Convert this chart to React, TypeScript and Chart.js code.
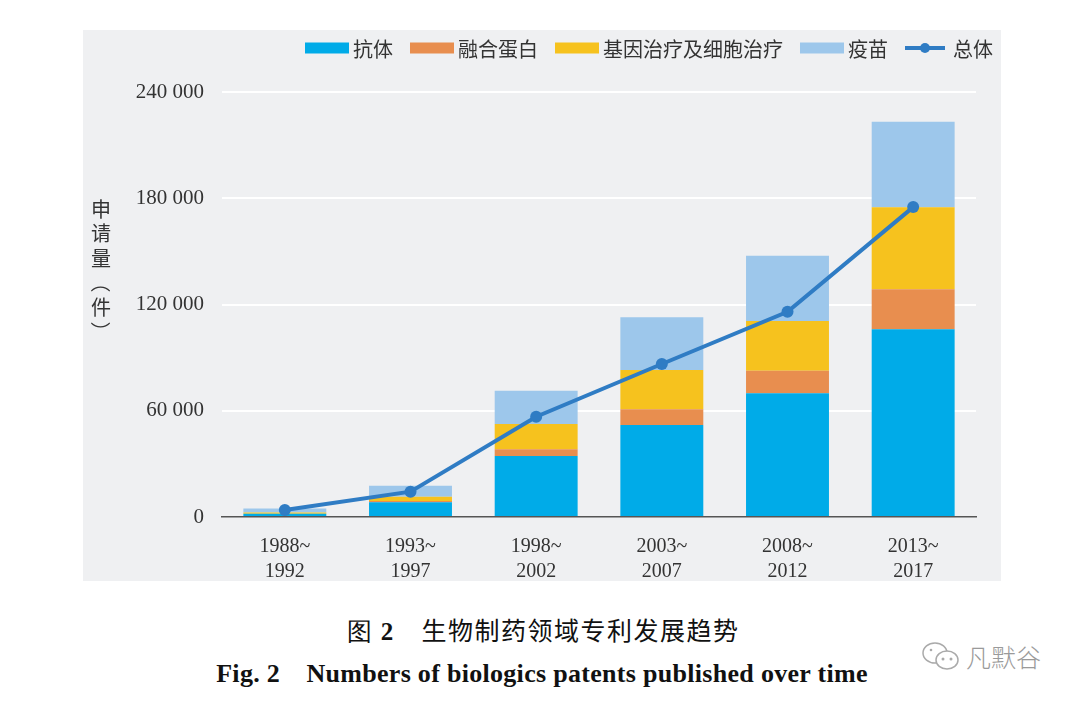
import React, { useEffect, useRef } from "react";
import { Chart, registerables } from "chart.js";
Chart.register(...registerables);

const categories = [
  ["1988~", "1992"],
  ["1993~", "1997"],
  ["1998~", "2002"],
  ["2003~", "2007"],
  ["2008~", "2012"],
  ["2013~", "2017"],
];
const antibody = [1800, 8300, 34400, 52000, 69900, 106000];
const fusionProtein = [100, 700, 3800, 8800, 12700, 22600];
const geneCellTherapy = [600, 2500, 14300, 22200, 28100, 46300];
const vaccine = [2300, 6200, 18800, 29800, 36900, 48300];
const total = [4000, 14300, 56600, 86400, 115900, 175000];
const yTicks = [0, 60000, 120000, 180000, 240000];
const seriesNames = ["抗体", "融合蛋白", "基因治疗及细胞治疗", "疫苗", "总体"];
const yTitle = ["申", "请", "量", "（", "件", "）"];

const CJK = '"Noto Sans CJK SC", "Noto Sans", sans-serif';
const SERIF = '"Liberation Serif", "DejaVu Serif", serif';

const C_ANTI = "#00abe8";
const C_FUSION = "#e88e4f";
const C_GENE = "#f6c21e";
const C_VAC = "#9dc7eb";
const C_LINE = "#2f7cc4";

const fmt = (v: number) => String(v).replace(/\B(?=(\d{3})+(?!\d))/g, " ");

const legendPlugin = {
  id: "customLegend",
  afterDraw(chart: any) {
    const ctx = chart.ctx;
    ctx.save();
    ctx.font = `20px ${CJK}`;
    ctx.textBaseline = "middle";
    const boxW = 44;
    const boxH = 11;
    const textGap = 4;
    const itemGap = 17;
    const y = 18;
    const ds = chart.data.datasets;
    const order = [0, 1, 2, 3, 4];
    const widths = order.map((i) => boxW + textGap + ctx.measureText(ds[i].label).width);
    const totalW = widths.reduce((a: number, b: number) => a + b, 0) + itemGap * (order.length - 1);
    let x = 910 - totalW;
    order.forEach((i, k) => {
      const d = ds[i];
      if (d.type === "line") {
        ctx.strokeStyle = d.borderColor;
        ctx.lineWidth = 4;
        ctx.beginPath();
        ctx.moveTo(x, y);
        ctx.lineTo(x + boxW - 4, y);
        ctx.stroke();
        ctx.fillStyle = d.borderColor;
        ctx.beginPath();
        ctx.arc(x + (boxW - 4) / 2, y, 5, 0, Math.PI * 2);
        ctx.fill();
      } else {
        ctx.fillStyle = d.backgroundColor;
        ctx.fillRect(x, y - boxH / 2, boxW, boxH);
      }
      ctx.fillStyle = "#333";
      ctx.textAlign = "left";
      ctx.fillText(d.label, x + boxW + textGap, y + 1);
      x += widths[k] + itemGap;
    });
    ctx.restore();
  },
};

const yTitlePlugin = {
  id: "yTitleVertical",
  afterDraw(chart: any) {
    const ctx = chart.ctx;
    ctx.save();
    ctx.font = `20px ${CJK}`;
    ctx.fillStyle = "#333";
    ctx.textAlign = "center";
    ctx.textBaseline = "middle";
    yTitle.forEach((ch, i) => {
      const cy = 179 + i * 24.5;
      if (ch === "（" || ch === "）") {
        ctx.save();
        ctx.translate(18, cy);
        ctx.rotate(Math.PI / 2);
        ctx.fillText(ch, 0, 0);
        ctx.restore();
      } else {
        ctx.fillText(ch, 18, cy);
      }
    });
    ctx.restore();
  },
};

function ChartPanel() {
  const ref = useRef<HTMLCanvasElement | null>(null);
  useEffect(() => {
    if (!ref.current) return;
    const chart = new Chart(ref.current, {
      type: "bar",
      data: {
        labels: categories as any,
        datasets: [
          { type: "bar", label: seriesNames[0], data: antibody, backgroundColor: C_ANTI, stack: "s", order: 1 },
          { type: "bar", label: seriesNames[1], data: fusionProtein, backgroundColor: C_FUSION, stack: "s", order: 1 },
          { type: "bar", label: seriesNames[2], data: geneCellTherapy, backgroundColor: C_GENE, stack: "s", order: 1 },
          { type: "bar", label: seriesNames[3], data: vaccine, backgroundColor: C_VAC, stack: "s", order: 1 },
          {
            type: "line",
            label: seriesNames[4],
            data: total,
            borderColor: C_LINE,
            backgroundColor: C_LINE,
            borderWidth: 4,
            pointRadius: 6,
            pointBackgroundColor: C_LINE,
            pointBorderWidth: 0,
            stack: "line",
            order: 0,
            tension: 0,
          } as any,
        ],
      },
      options: {
        responsive: false,
        animation: false,
        layout: { padding: { left: 0, top: 62, right: 25, bottom: 0 } },
        datasets: { bar: { categoryPercentage: 1, barPercentage: 0.66, borderWidth: 0 } } as any,
        plugins: { legend: { display: false }, tooltip: { enabled: false }, title: { display: false } },
        scales: {
          x: {
            stacked: true,
            grid: { display: false, drawTicks: false },
            border: { display: true, color: "#555", width: 1.5 },
            ticks: {
              color: "#333",
              font: { family: SERIF, size: 20, lineHeight: 1.25 },
              padding: 17,
              maxRotation: 0,
              autoSkip: false,
            },
            afterFit(scale: any) {
              scale.height = 64;
            },
          },
          y: {
            stacked: true,
            min: 0,
            max: 240000,
            afterBuildTicks(scale: any) {
              scale.ticks = yTicks.map((v) => ({ value: v }));
            },
            grid: {
              color: (c: any) => (c.tick && c.tick.value === 0 ? "rgba(0,0,0,0)" : "#ffffff"),
              lineWidth: 2,
              drawTicks: false,
            },
            border: { display: false },
            ticks: {
              color: "#333",
              font: { family: SERIF, size: 21 },
              padding: 18,
              callback: (v: any) => fmt(Number(v)),
            },
            afterFit(scale: any) {
              scale.width = 139;
            },
          },
        },
      },
      plugins: [legendPlugin, yTitlePlugin],
    });
    return () => chart.destroy();
  }, []);
  return <canvas ref={ref} width={918} height={551} style={{ display: "block" }} />;
}

export default function App() {
  return (
    <div style={{ position: "absolute", left: 0, top: 0, width: 1080, height: 702, background: "#fff", overflow: "hidden" }}>
      <div style={{ position: "absolute", left: 83, top: 30, width: 918, height: 551, background: "#eff0f2" }}>
        <ChartPanel />
      </div>
      <div
        style={{
          position: "absolute",
          left: 0,
          top: 611,
          width: 1086,
          textAlign: "center",
          fontFamily: CJK,
          fontSize: 25,
          lineHeight: "36px",
          color: "#111",
          letterSpacing: 1.5,
        }}
      >
        <span style={{ fontFamily: SERIF, fontWeight: 400 }}>图 </span>
        <span style={{ fontFamily: SERIF, fontWeight: 700 }}>2</span>
        <span>{"\u3000"}生物制药领域专利发展趋势</span>
      </div>
      <div
        style={{
          position: "absolute",
          left: 0,
          top: 656,
          width: 1084,
          textAlign: "center",
          fontFamily: SERIF,
          fontWeight: 700,
          fontSize: 26,
          lineHeight: "36px",
          color: "#111",
          letterSpacing: 0.3,
        }}
      >
        Fig. 2{"\u2003"}Numbers of biologics patents published over time
      </div>
      <div style={{ position: "absolute", left: 920, top: 640, width: 44, height: 34 }}>
        <svg width="44" height="34" viewBox="0 0 44 34">
          <ellipse cx="15" cy="13" rx="12" ry="10" fill="none" stroke="#aaa" strokeWidth="1.5" />
          <ellipse cx="27" cy="20" rx="11" ry="9" fill="#fff" stroke="#aaa" strokeWidth="1.5" />
          <circle cx="23" cy="19" r="1.5" fill="#aaa" />
          <circle cx="31" cy="19" r="1.5" fill="#aaa" />
          <circle cx="11" cy="10" r="1.3" fill="#aaa" />
        </svg>
      </div>
      <div
        style={{
          position: "absolute",
          left: 966,
          top: 639,
          fontFamily: CJK,
          fontWeight: 300,
          fontSize: 25,
          lineHeight: "34px",
          color: "#9a9a9a",
        }}
      >
        凡默谷
      </div>
    </div>
  );
}
